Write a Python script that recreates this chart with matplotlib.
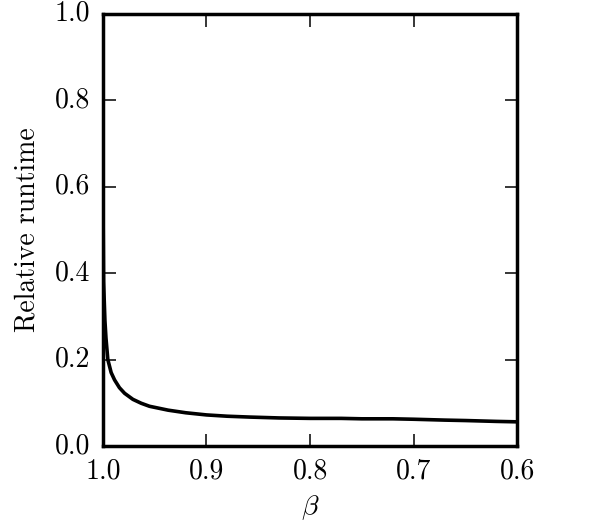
import matplotlib
matplotlib.use("Agg")
import matplotlib.pyplot as plt

# values
beta = [1.0, 0.99995, 0.9998, 0.9993, 0.998, 0.997, 0.9952, 0.992, 0.9887, 0.984,
        0.979, 0.971, 0.963, 0.955, 0.937, 0.92, 0.90, 0.88, 0.858, 0.83,
        0.80, 0.77, 0.75, 0.72, 0.70, 0.67, 0.65, 0.62, 0.60]
runtime = [1.0, 0.80, 0.55, 0.38, 0.29, 0.25, 0.20, 0.17, 0.153, 0.135,
           0.122, 0.108, 0.099, 0.092, 0.083, 0.077, 0.072, 0.069, 0.067, 0.065,
           0.064, 0.064, 0.063, 0.063, 0.062, 0.060, 0.059, 0.057, 0.056]

xticks = [1.0, 0.9, 0.8, 0.7, 0.6]
yticks = [0.0, 0.2, 0.4, 0.6, 0.8, 1.0]

plt.style.use("classic")
plt.rcParams["font.family"] = ["cmr10", "DejaVu Serif"]
plt.rcParams["mathtext.fontset"] = "cm"
plt.rcParams["axes.formatter.use_mathtext"] = True
plt.rcParams["font.size"] = 20

fig = plt.figure(figsize=(5.98, 5.31), dpi=100, facecolor="white")
ax = fig.add_axes([0.172, 0.160, 0.693, 0.814])

ax.plot(beta, runtime, color="black", linewidth=2.6)

ax.set_xlim(1.0, 0.6)
ax.set_ylim(0.0, 1.0)
ax.set_xticks(xticks)
ax.set_yticks(yticks)
ax.set_xticklabels([f"{t:.1f}" for t in xticks])
ax.set_yticklabels([f"{t:.1f}" for t in yticks])
ax.tick_params(direction="in", length=9, width=1.1, top=True, right=True, pad=9,
               labelsize=20)
ax.tick_params(which="minor", length=0)
for s in ax.spines.values():
    s.set_linewidth(2.5)

ax.set_xlabel(r"$\beta$", fontsize=20, labelpad=6)
ax.set_ylabel("Relative runtime", fontsize=20, labelpad=10)

plt.savefig("out.png", dpi=100, facecolor="white")
plt.close()
